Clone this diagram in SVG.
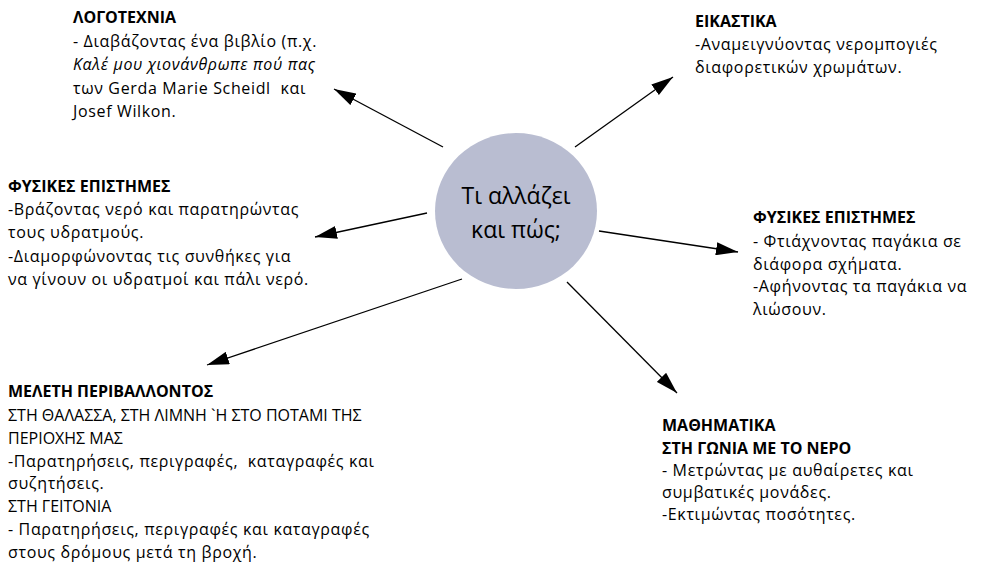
<svg xmlns="http://www.w3.org/2000/svg" width="982" height="568" viewBox="0 0 982 568">
<defs>
<marker id="ah" viewBox="0 0 22 13" refX="22" refY="6.5" markerWidth="22" markerHeight="13" markerUnits="userSpaceOnUse" orient="auto">
<path d="M0,0 L22,6.5 L0,13 Z" fill="#000"/>
</marker>
</defs>
<style>
text{font-family:"Open Sans","Noto Sans",sans-serif;font-size:16px;fill:#000;white-space:pre}
.l{letter-spacing:0.65px}
.b{font-weight:bold}
.i{font-style:italic}
.c{font-size:23px;text-anchor:middle;letter-spacing:0}
.con line{stroke:#000;stroke-width:1.3;marker-end:url(#ah)}
</style>
<rect width="982" height="568" fill="#fff"/>
<g id="center">
<ellipse cx="516" cy="211" rx="81" ry="78" fill="#b9bdd1"/>
<text class="c" x="516" y="204">Τι αλλάζει</text>
<text class="c" x="516" y="238">και πώς;</text>
</g>
<g class="con" id="connectors">
<line x1="443" y1="147" x2="334" y2="89"/>
<line x1="575" y1="147" x2="673" y2="77"/>
<line x1="427" y1="213" x2="315" y2="237"/>
<line x1="599" y1="231" x2="738" y2="252"/>
<line x1="462" y1="279" x2="207" y2="365"/>
<line x1="567" y1="282" x2="677" y2="393"/>
</g>
<g id="logotexnia">
<text class="b" x="73" y="23">ΛΟΓΟΤΕΧΝΙΑ</text>
<text class="l" x="73" y="47">- Διαβάζοντας ένα βιβλίο (π.χ.</text>
<text class="l i" x="73" y="70">Καλέ μου χιονάνθρωπε πού πας</text>
<text class="l" x="73" y="94">των Gerda Marie Scheidl  και</text>
<text class="l" x="73" y="117">Josef Wilkon.</text>
</g>
<g id="eikastika">
<text class="b" x="695" y="27">ΕΙΚΑΣΤΙΚΑ</text>
<text class="l" x="695" y="50">-Αναμειγνύοντας νερομπογιές</text>
<text class="l" x="695" y="73">διαφορετικών χρωμάτων.</text>
</g>
<g id="fysikes-left">
<text class="b" x="8" y="192">ΦΥΣΙΚΕΣ ΕΠΙΣΤΗΜΕΣ</text>
<text class="l" x="8" y="215">-Βράζοντας νερό και παρατηρώντας</text>
<text class="l" x="8" y="238">τους υδρατμούς.</text>
<text class="l" x="8" y="262">-Διαμορφώνοντας τις συνθήκες για</text>
<text class="l" x="8" y="285">να γίνουν οι υδρατμοί και πάλι νερό.</text>
</g>
<g id="fysikes-right">
<text class="b" x="753" y="223">ΦΥΣΙΚΕΣ ΕΠΙΣΤΗΜΕΣ</text>
<text class="l" x="753" y="247">- Φτιάχνοντας παγάκια σε</text>
<text class="l" x="753" y="270">διάφορα σχήματα.</text>
<text class="l" x="753" y="292">-Αφήνοντας τα παγάκια να</text>
<text class="l" x="753" y="315">λιώσουν.</text>
</g>
<g id="meleti">
<text class="b" x="8" y="397">ΜΕΛΕΤΗ ΠΕΡΙΒΑΛΛΟΝΤΟΣ</text>
<text x="8" y="421">ΣΤΗ ΘΑΛΑΣΣΑ, ΣΤΗ ΛΙΜΝΗ `Η ΣΤΟ ΠΟΤΑΜΙ ΤΗΣ</text>
<text x="8" y="444">ΠΕΡΙΟΧΗΣ ΜΑΣ</text>
<text class="l" x="8" y="467">-Παρατηρήσεις, περιγραφές,  καταγραφές και</text>
<text class="l" x="8" y="489">συζητήσεις.</text>
<text x="8" y="512">ΣΤΗ ΓΕΙΤΟΝΙΑ</text>
<text class="l" x="8" y="535">- Παρατηρήσεις, περιγραφές και καταγραφές</text>
<text class="l" x="8" y="558">στους δρόμους μετά τη βροχή.</text>
</g>
<g id="mathimatika">
<text class="b" x="662" y="431">ΜΑΘΗΜΑΤΙΚΑ</text>
<text class="b" x="662" y="454">ΣΤΗ ΓΩΝΙΑ ΜΕ ΤΟ ΝΕΡΟ</text>
<text class="l" x="662" y="476">- Μετρώντας με αυθαίρετες και</text>
<text class="l" x="662" y="498">συμβατικές μονάδες.</text>
<text class="l" x="662" y="520">-Εκτιμώντας ποσότητες.</text>
</g>
</svg>
